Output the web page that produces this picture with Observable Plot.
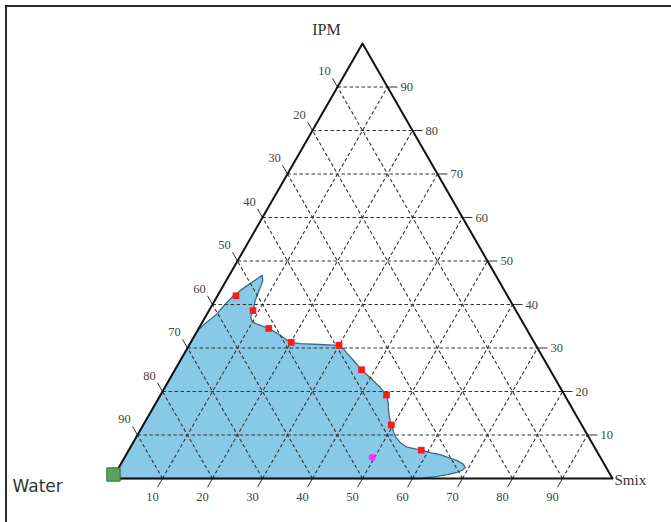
<!DOCTYPE html>
<html><head><meta charset="utf-8">
<script src="https://cdn.jsdelivr.net/npm/d3@7"></script>
<script src="https://cdn.jsdelivr.net/npm/@observablehq/plot@0.6"></script>
<style>
body{margin:0;background:#fff;}
#wrap{position:relative;width:671px;height:522px;overflow:hidden;background:#fff;}
#chart{position:absolute;left:0;top:0;}
#border{position:absolute;left:5px;top:5px;width:700px;height:600px;border-top:2px solid #2a2a2a;border-left:2px solid #2a2a2a;pointer-events:none;}
</style></head><body>
<div id="wrap"><div id="chart"></div><div id="border"></div></div>
<script>
// Axis tick values (percent)
const tickValues = [10, 20, 30, 40, 50, 60, 70, 80, 90];
const vertexNames = ["Water", "IPM", "Smix"];

// Boundary of the microemulsion region (percent IPM, percent Smix; Water = rest)
const regionIPM  = [0, 34, 36, 37.9, 40, 42, 43.3, 44.4, 45.7, 46.7, 45.5, 44, 42.5, 40.9, 38.6, 37.1, 36.2, 35.6, 34.5, 33, 31.8, 31.3, 31, 30.8, 30.6, 29.8, 28.7, 27, 25, 23, 20.9, 19.2, 17.3, 15.6, 14, 12.3, 10.8, 9.5, 8.2, 7.2, 6.5, 5.9, 5.5, 4.8, 4.1, 3.3, 2.5, 1.9, 1.4, 0.9, 0.5, 0];
const regionSmix = [0, 0, 0.9, 2, 2.5, 3.2, 4, 4.8, 5.8, 6.6, 7.3, 7.6, 7.8, 8.1, 8.8, 9.1, 9.8, 10.8, 14, 17, 19, 20.1, 22, 26, 30, 31.3, 32.6, 34.8, 37.3, 40.2, 43.1, 45.2, 46.5, 47.4, 48.4, 49.6, 50.8, 51.9, 53.5, 55.3, 58.5, 60.8, 62.8, 64.8, 66.9, 68.5, 69.3, 69, 68.2, 66.5, 64.7, 61.6];

// Titration points (red)
const pointIPM  = [42, 38.6, 34.5, 31.3, 30.6, 25, 19.2, 12.3, 6.5];
const pointSmix = [3.7, 8.8, 14, 20.1, 30, 37.3, 45.2, 49.6, 58.5];

// Selected formulation (magenta)
const selIPM = [4.9];
const selSmix = [49.5];

const X = (s, i) => (s + i / 2) / 100;
const Y = (i) => i / 100;

const region = regionIPM.map((ip, k) => ({x: X(regionSmix[k], ip), y: Y(ip)}));
const pts = pointIPM.map((ip, k) => ({x: X(pointSmix[k], ip), y: Y(ip)}));
const sel = selIPM.map((ip, k) => ({x: X(selSmix[k], ip), y: Y(ip)}));

const gridIPM = tickValues.map(t => ({x1: X(0, t), y1: Y(t), x2: X(100 - t, t), y2: Y(t)}));
const gridSmix = tickValues.map(t => ({x1: X(t, 0), y1: 0, x2: X(t, 100 - t), y2: Y(100 - t)}));
const gridWater = tickValues.map(t => ({x1: X(100 - t, 0), y1: 0, x2: X(0, 100 - t), y2: Y(100 - t)}));
const grid = [...gridIPM, ...gridSmix, ...gridWater];

const tri = [{x: 0, y: 0}, {x: 1, y: 0}, {x: 0.5, y: 1}];

const tkB = tickValues.map(t => ({t, x: X(t, 0), y: 0}));
const tkR = tickValues.map(t => ({t, x: X(100 - t, t), y: Y(t)}));
const tkL = tickValues.map(t => ({t, x: X(0, 100 - t), y: Y(100 - t)}));

const chart = Plot.plot({
  width: 671, height: 522,
  margin: 0,
  x: {domain: [0, 1], range: [112, 612], axis: null},
  y: {domain: [0, 1], range: [478, 43], axis: null},
  style: {fontFamily: "'Liberation Serif', serif", background: "transparent"},
  marks: [
    Plot.line(region, {x: "x", y: "y", curve: "linear-closed", fill: "#89c9e8", stroke: "#3d6b85", strokeWidth: 1.3}),
    Plot.link(grid, {x1: "x1", y1: "y1", x2: "x2", y2: "y2", stroke: "#333", strokeWidth: 1.1, strokeDasharray: "3.5,2.5"}),
    // ticks
    Plot.link(tkB, {x1: "x", y1: "y", x2: d => d.x - 0.01, y2: d => d.y - 0.02, stroke: "#333", strokeWidth: 1}),
    Plot.link(tkR, {x1: "x", y1: "y", x2: d => d.x + 0.02, y2: "y", stroke: "#333", strokeWidth: 1}),
    Plot.link(tkL, {x1: "x", y1: "y", x2: d => d.x - 0.01, y2: d => d.y + 0.02, stroke: "#333", strokeWidth: 1}),
    Plot.line(tri, {x: "x", y: "y", curve: "linear-closed", stroke: "#111", strokeWidth: 2}),
    // tick labels
    Plot.text(tkB, {x: "x", y: "y", text: d => String(d.t), dx: -10, dy: 18, fontSize: 12.5, fill: "#444"}),
    Plot.text(tkR, {x: "x", y: "y", text: d => String(d.t), dx: 13, textAnchor: "start", fontSize: 12.5, fill: "#444"}),
    Plot.text(tkL, {x: "x", y: "y", text: d => String(d.t), dx: -13, dy: -16, fontSize: 12.5, fill: "#444"}),
    // vertex labels
    Plot.text([vertexNames[1]], {x: 0.5, y: 1, text: d => d, dx: -36, dy: -14, fontSize: 16, fill: "#333"}),
    Plot.text([vertexNames[2]], {x: 1, y: 0, text: d => d, dx: 2, dy: 2, textAnchor: "start", fontSize: 15, fill: "#333"}),
    Plot.text([vertexNames[0]], {x: 0, y: 0, text: d => d, dx: -100, dy: 8, textAnchor: "start", fontSize: 17, fontFamily: "'DejaVu Sans', sans-serif", fill: "#333"}),
    // vertex marker
    Plot.dot([{x: 0, y: 0}], {x: "x", y: "y", symbol: "square", r: 7.5, dx: 1, dy: -4, fill: "#5f9f5f", stroke: "#2f6f2f", strokeWidth: 1}),
    // points
    Plot.dot(pts, {x: "x", y: "y", symbol: "square", r: 3.8, fill: "#ff1a1a", stroke: "none"}),
    Plot.dot(sel, {x: "x", y: "y", symbol: "circle", r: 3.5, fill: "#ff33ff", stroke: "none"})
  ]
});
document.getElementById("chart").appendChild(chart);
</script>
</body></html>
